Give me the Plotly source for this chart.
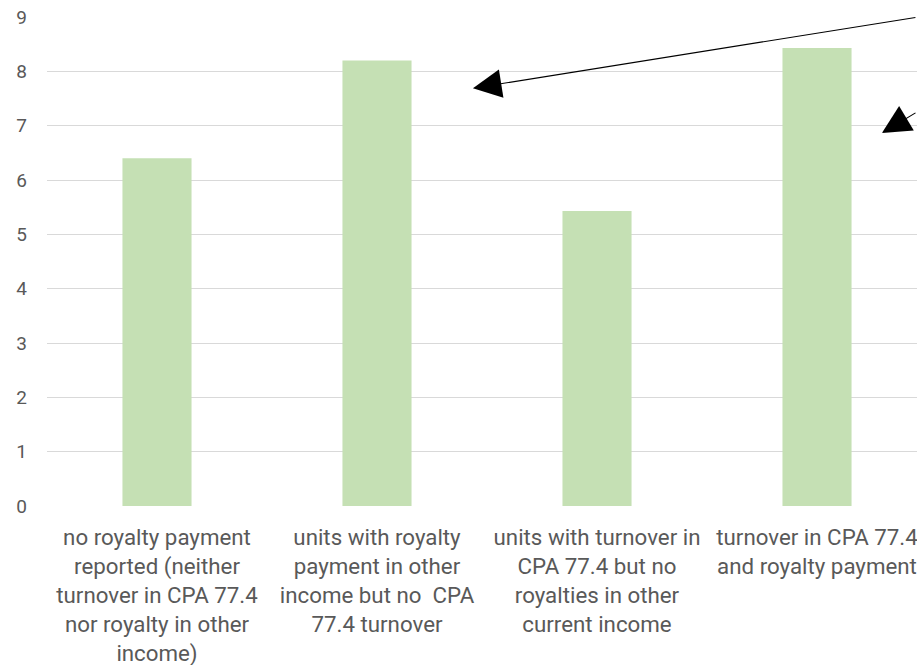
import plotly.graph_objects as go

categories = [
    "no royalty payment<br>reported (neither<br>turnover in CPA 77.4<br>nor royalty in other<br>income)",
    "units with royalty<br>payment in other<br>income but no  CPA<br>77.4 turnover",
    "units with turnover in<br>CPA 77.4 but no<br>royalties in other<br>current income",
    "turnover in CPA 77.4<br>and royalty payment",
]
values = [6.4, 8.2, 5.43, 8.43]
y_ticks = list(range(0, 10))

FONT = "Roboto, sans-serif"
TXT = "#595959"

fig = go.Figure()
fig.add_trace(go.Bar(
    x=list(range(len(categories))),
    y=values,
    width=0.314,
    marker=dict(color="#c5e0b4", line=dict(width=0)),
    hoverinfo="skip",
))

fig.update_layout(
    template="none",
    width=917,
    height=665,
    margin=dict(l=47, r=0, t=17, b=159, autoexpand=False),
    paper_bgcolor="white",
    plot_bgcolor="white",
    showlegend=False,
    font=dict(family=FONT, size=18, color=TXT),
    xaxis=dict(
        range=[-0.5, 3.4545],
        tickmode="array",
        tickvals=list(range(len(categories))),
        ticktext=categories,
        showgrid=False,
        zeroline=False,
        showline=False,
        ticks="",
        automargin=False,
        ticklabeloverflow="allow",
        tickfont=dict(family=FONT, size=22.3, color=TXT),
        ticklabelstandoff=16,
    ),
    yaxis=dict(
        range=[0, 9],
        tickmode="array",
        tickvals=y_ticks,
        showgrid=True,
        gridcolor="#d9d9d9",
        gridwidth=1.2,
        zeroline=False,
        showline=False,
        ticks="",
        automargin=False,
        tickfont=dict(family=FONT, size=19, color=TXT),
        ticklabelstandoff=19,
    ),
)

# arrows (tails run to the right edge)
fig.add_annotation(x=1.436, y=7.69, xref="x", yref="y", text="", showarrow=True,
                   arrowhead=2, arrowsize=5.2, arrowwidth=1.1, arrowcolor="black",
                   ax=444, ay=-71, axref="pixel", ayref="pixel")
fig.add_annotation(x=3.295, y=6.865, xref="x", yref="y", text="", showarrow=True,
                   arrowhead=2, arrowsize=5.2, arrowwidth=1.1, arrowcolor="black",
                   ax=36, ay=-21, axref="pixel", ayref="pixel")

fig.write_html("out.html")
